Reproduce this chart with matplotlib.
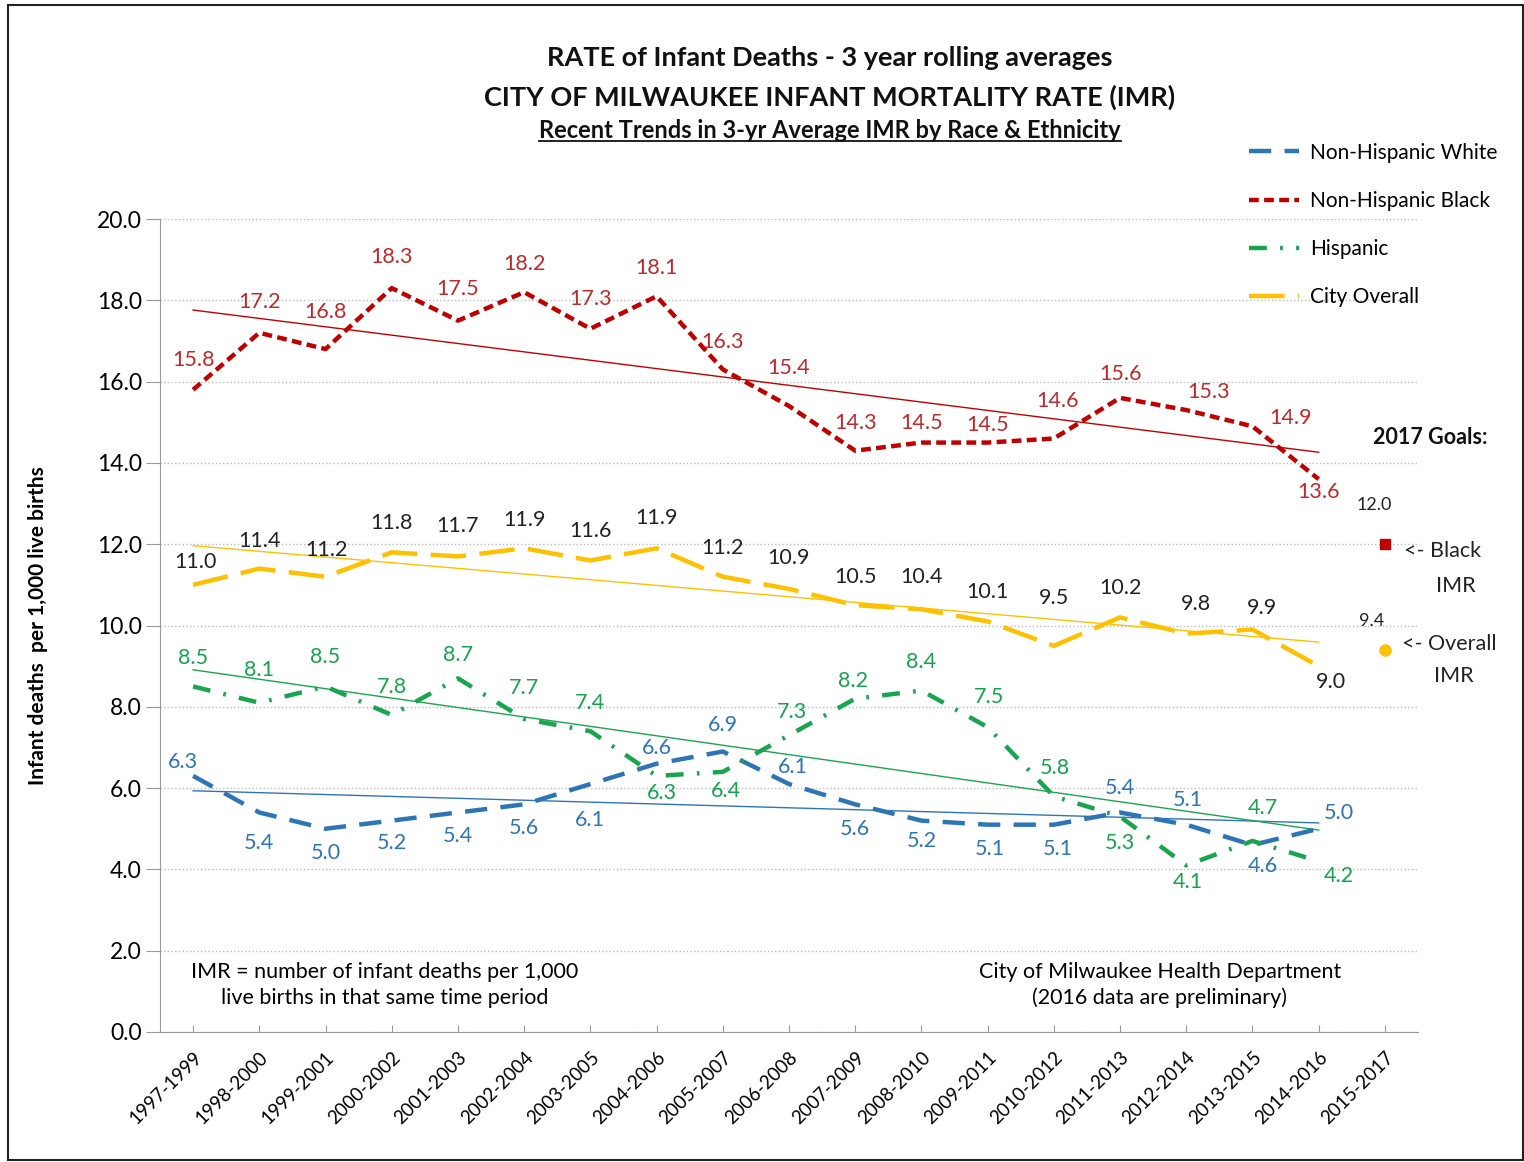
import numpy as np
import matplotlib
matplotlib.use("Agg")
import matplotlib.pyplot as plt
from matplotlib.patches import Rectangle

plt.rcParams['font.family'] = ['Lato', 'DejaVu Sans']

# ---- data ----
periods = ['1997-1999', '1998-2000', '1999-2001', '2000-2002', '2001-2003',
           '2002-2004', '2003-2005', '2004-2006', '2005-2007', '2006-2008',
           '2007-2009', '2008-2010', '2009-2011', '2010-2012', '2011-2013',
           '2012-2014', '2013-2015', '2014-2016', '2015-2017']

nh_white = [6.3, 5.4, 5.0, 5.2, 5.4, 5.6, 6.1, 6.6, 6.9, 6.1,
            5.6, 5.2, 5.1, 5.1, 5.4, 5.1, 4.6, 5.0]
nh_black = [15.8, 17.2, 16.8, 18.3, 17.5, 18.2, 17.3, 18.1, 16.3, 15.4,
            14.3, 14.5, 14.5, 14.6, 15.6, 15.3, 14.9, 13.6]
hispanic = [8.5, 8.1, 8.5, 7.8, 8.7, 7.7, 7.4, 6.3, 6.4, 7.3,
            8.2, 8.4, 7.5, 5.8, 5.3, 4.1, 4.7, 4.2]
city_overall = [11.0, 11.4, 11.2, 11.8, 11.7, 11.9, 11.6, 11.9, 11.2, 10.9,
                10.5, 10.4, 10.1, 9.5, 10.2, 9.8, 9.9, 9.0]

goal_black = 12.0
goal_overall = 9.4

# label offsets in pixels (dx, dy up)
off_white = [(-10, 14), (0, -31), (0, -24), (0, -22), (0, -24), (0, -24), (0, -36),
             (0, 16), (0, 27), (4, 17), (0, -25), (0, -20), (2, -24), (4, -24),
             (0, 24), (2, 25), (10, -21), (20, 16)]
off_black = [(0, 30), (0, 31), (0, 37), (0, 31), (0, 32), (0, 28), (0, 30), (0, 28),
             (0, 27), (0, 38), (0, 28), (0, 20), (0, 18), (4, 38), (0, 24),
             (22, 18), (38, 8), (0, -13)]
off_hisp = [(0, 28), (0, 33), (0, 29), (0, 28), (0, 23), (0, 31), (0, 28), (5, -17),
            (3, -19), (3, 23), (-2, 18), (0, 29), (1, 30), (1, 28), (0, -26),
            (2, -17), (10, 33), (20, -15)]
off_city = [(2, 23), (0, 28), (1, 27), (0, 29), (0, 30), (0, 28), (0, 29), (0, 30),
            (0, 29), (0, 31), (0, 28), (0, 32), (0, 29), (0, 48), (0, 29),
            (10, 30), (10, 22), (12, -16)]

c_white = '#2E75B6'
c_black = '#C00000'
c_hisp = '#19A550'
c_city = '#FFC000'
lbl_white = '#2E75B6'
lbl_black = '#C0292B'
lbl_hisp = '#17A24E'
lbl_city = '#222222'

fig = plt.figure(figsize=(15.24, 11.62), dpi=100)
ax = fig.add_axes([160 / 1524, 1 - 1032 / 1162, 1258 / 1524, 813 / 1162])

x = np.arange(len(nh_white))

series = [
    ('Non-Hispanic White', nh_white, c_white, (0, (5, 3)), lbl_white, off_white),
    ('Non-Hispanic Black', nh_black, c_black, (0, (2.2, 1.2)), lbl_black, off_black),
    ('Hispanic', hispanic, c_hisp, (0, (4, 3, 0.6, 3)), lbl_hisp, off_hisp),
    ('City Overall', city_overall, c_city, (0, (8, 3)), lbl_city, off_city),
]

handles = []
for name, vals, col, ls, lcol, offs in series:
    h, = ax.plot(x, vals, color=col, lw=3.2, linestyle=ls, label=name,
                 dash_capstyle='butt', zorder=3)
    handles.append(h)
    # linear trendline
    k, b = np.polyfit(x, vals, 1)
    ax.plot(x, k * x + b, color=col, lw=1.0, zorder=2)
    for xi, v, (dx, dy) in zip(x, vals, offs):
        ax.annotate(f'{v:.1f}', (xi, v), xytext=(dx, dy), textcoords='offset pixels',
                    ha='center', va='center', fontsize=15.5, color=lcol, zorder=4)

# 2017 goals
gx = len(periods) - 1
ax.plot([gx], [goal_black], marker='s', color=c_black, ms=7, ls='none', zorder=4)
ax.plot([gx], [goal_overall], marker='o', color=c_city, ms=8, ls='none', zorder=4)
ax.annotate(f'{goal_black:.1f}', (gx, goal_black), xytext=(-11, 39), textcoords='offset pixels',
            ha='center', va='center', fontsize=13, color='#222222')
ax.annotate(f'{goal_overall:.1f}', (gx, goal_overall), xytext=(-13, 29), textcoords='offset pixels',
            ha='center', va='center', fontsize=13, color='#222222')
fig.text(1430 / 1524, 1 - 438 / 1162, '2017 Goals:', fontsize=15.5, fontweight='bold',
         ha='center', va='center', color='#111111')
fig.text(1443 / 1524, 1 - 551 / 1162, '<- Black', fontsize=15.5, ha='center', va='center', color='#222222')
fig.text(1456 / 1524, 1 - 586 / 1162, 'IMR', fontsize=15.5, ha='center', va='center', color='#222222')
fig.text(1449 / 1524, 1 - 644 / 1162, '<- Overall', fontsize=15.5, ha='center', va='center', color='#222222')
fig.text(1454 / 1524, 1 - 676 / 1162, 'IMR', fontsize=15.5, ha='center', va='center', color='#222222')

# axes styling
ax.set_xlim(-0.5, len(periods) - 0.5)
ax.set_ylim(0, 20)
ax.set_yticks(np.arange(0, 20.1, 2))
ax.set_yticklabels([f'{v:.1f}' for v in np.arange(0, 20.1, 2)], fontsize=16.5)
ax.set_xticks(np.arange(len(periods)))
ax.set_xticklabels(periods, rotation=45, ha='right', rotation_mode='anchor', fontsize=13.5)
ax.tick_params(axis='x', direction='in', length=5, color='#999999', pad=12)
ax.tick_params(axis='y', length=10, color='#999999', pad=3)
ax.grid(axis='y', color='#BBBBBB', linestyle=':', lw=1)
ax.set_axisbelow(True)
for s in ['top', 'right']:
    ax.spines[s].set_visible(False)
for s in ['left', 'bottom']:
    ax.spines[s].set_color('#999999')
ax.set_ylabel('Infant deaths  per 1,000 live births', fontsize=15, fontweight='bold', labelpad=35)

ax.text(385 / 1524, 1 - 985 / 1162,
        'IMR = number of infant deaths per 1,000\nlive births in that same time period',
        transform=fig.transFigure, ha='center', va='center', fontsize=15.5, linespacing=1.35)
ax.text(1160 / 1524, 1 - 985 / 1162,
        'City of Milwaukee Health Department\n(2016 data are preliminary)',
        transform=fig.transFigure, ha='center', va='center', fontsize=15.5, linespacing=1.35)

# titles
fig.text(830 / 1524, 1 - 58 / 1162, 'RATE of Infant Deaths - 3 year rolling averages',
         ha='center', va='center', fontsize=19.5, fontweight='bold', color='#111111')
fig.text(830 / 1524, 1 - 97 / 1162, 'CITY OF MILWAUKEE INFANT MORTALITY RATE (IMR)',
         ha='center', va='center', fontsize=19.5, fontweight='bold', color='#111111')
sub = fig.text(830 / 1524, 1 - 131 / 1162, 'Recent Trends in 3-yr Average IMR by Race & Ethnicity',
               ha='center', va='center', fontsize=17, fontweight='bold', color='#111111')
# underline the subtitle under its own extent
fig.canvas.draw()
bb = sub.get_window_extent().transformed(fig.transFigure.inverted())
fig.add_artist(plt.Line2D([bb.x0, bb.x1], [bb.y0 + 0.001, bb.y0 + 0.001],
                          color='#111111', lw=1.3))

# legend
fig.legend(handles=handles, loc='upper left', bbox_to_anchor=(1230 / 1524, 1 - 124 / 1162),
           frameon=False, fontsize=15, handlelength=2.4, labelspacing=1.35, handletextpad=0.55)

# outer border
fig.add_artist(Rectangle((8 / 1524, 2 / 1162), 1515 / 1524, 1155 / 1162,
                         transform=fig.transFigure, fill=False, edgecolor='#222222', lw=1.5))

fig.savefig('out.png', dpi=100)
